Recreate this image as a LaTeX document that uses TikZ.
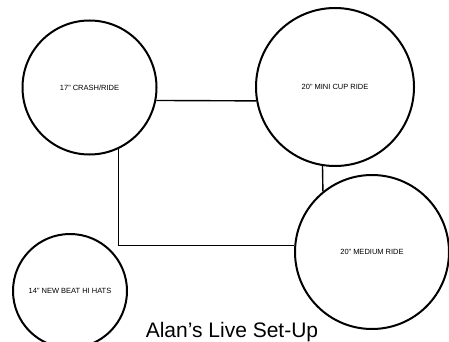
\documentclass[tikz,border=0pt]{standalone}
\usepackage{fontspec}
\setmainfont{Liberation Sans}
\begin{document}
\begin{tikzpicture}[x=1pt,y=-1pt,
  cym/.style={circle,draw=black,line width=2pt,inner sep=0pt,font=\fontsize{7.5}{8}\selectfont},
  conn/.style={draw=black,line width=1.4pt}]
\useasboundingbox (0,0) rectangle (449,342);
\node[cym,minimum size=134pt] (c1) at (89.5,87.5) {17" CRASH/RIDE};
\node[cym,minimum size=158pt] (c2) at (335,87) {20" MINI CUP RIDE};
\node[cym,minimum size=154pt] (c3) at (372,252) {20" MEDIUM RIDE};
\node[cym,minimum size=114pt] (c4) at (70,291) {14" NEW BEAT HI HATS};
\node[anchor=base,font=\fontsize{21}{24}\selectfont] (t) at (232,337.5) {Alan's Live Set-Up};
\draw[conn] (c1.-11.6) -- (c2.190.2);
\draw[conn] (c1.-65.5) |- (c3.175.5);
\draw[conn] (c2.-99) -- (c3.129.8);
\end{tikzpicture}
\end{document}
